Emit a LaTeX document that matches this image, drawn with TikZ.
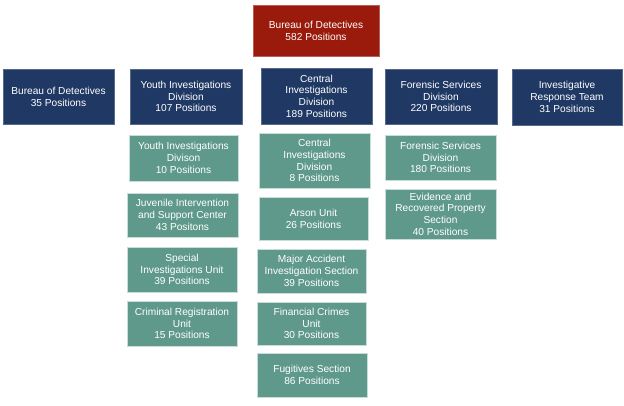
\documentclass[tikz,border=0pt]{standalone}
\usepackage{fontspec}
\setmainfont{Liberation Sans}
\definecolor{topred}{HTML}{9A1A0B}
\definecolor{divblue}{HTML}{1F3864}
\definecolor{unitgreen}{HTML}{5F998B}
\definecolor{edgegreen}{HTML}{C9DDD7}
\begin{document}
\begin{tikzpicture}[x=1bp,y=-1bp,
  box/.style={rectangle, inner sep=0pt, align=center, text=white,
    font=\fontsize{10.2}{11.8}\selectfont, line width=0.8bp},
  topbox/.style={box, fill=topred, draw=topred!70!white},
  divbox/.style={box, fill=divblue, draw=divblue!75!white},
  unitbox/.style={box, fill=unitgreen, draw=edgegreen}]
\useasboundingbox (0,0) rectangle (624,405);
\fill[white] (0,0) rectangle (624,405);
% top
\node[topbox, minimum width=126bp, minimum height=51bp] (top) at (316,30.5) {Bureau of Detectives\\582 Positions};
% divisions
\node[divbox, minimum width=111bp, minimum height=55bp] (d1) at (58.5,96.5) {Bureau of Detectives\\35 Positions};
\node[divbox, minimum width=112bp, minimum height=55bp] (d2) at (186,96.5) {Youth Investigations\\Division\\107 Positions};
\node[divbox, minimum width=111bp, minimum height=56bp] (d3) at (316.5,96) {Central\\Investigations\\Division\\189 Positions};
\node[divbox, minimum width=112bp, minimum height=55bp] (d4) at (441,96.5) {Forensic Services\\Division\\220 Positions};
\node[divbox, minimum width=110bp, minimum height=56bp] (d5) at (567,97) {Investigative\\Response Team\\31 Positions};
% youth units
\node[unitbox, minimum width=109bp, minimum height=46bp] (u11) at (183.5,158) {Youth Investigations\\Divison\\10 Positions};
\node[unitbox, minimum width=111bp, minimum height=44bp] (u12) at (182.5,215) {Juvenile Intervention\\and Support Center\\43 Positons};
\node[unitbox, minimum width=110bp, minimum height=45bp] (u13) at (182,269.5) {Special\\Investigations Unit\\39 Positions};
\node[unitbox, minimum width=110bp, minimum height=45bp] (u14) at (182,323.5) {Criminal Registration\\Unit\\15 Positions};
% central units
\node[unitbox, minimum width=111bp, minimum height=55bp] (u21) at (314.5,160.5) {Central\\Investigations\\Division\\8 Positions};
\node[unitbox, minimum width=109bp, minimum height=43bp] (u22) at (313.5,218.5) {Arson Unit\\26 Positions};
\node[unitbox, minimum width=109bp, minimum height=44bp] (u23) at (311.5,271) {Major Accident\\Investigation Section\\39 Positions};
\node[unitbox, minimum width=109bp, minimum height=43bp] (u24) at (311.5,323.5) {Financial Crimes\\Unit\\30 Positions};
\node[unitbox, minimum width=110bp, minimum height=44bp] (u25) at (312,375) {Fugitives Section\\86 Positions};
% forensic units
\node[unitbox, minimum width=111bp, minimum height=45bp] (u31) at (440.5,157.5) {Forensic Services\\Division\\180 Positions};
\node[unitbox, minimum width=111bp, minimum height=50bp] (u32) at (440.5,214) {Evidence and\\Recovered Property\\Section\\40 Positions};
\end{tikzpicture}
\end{document}
